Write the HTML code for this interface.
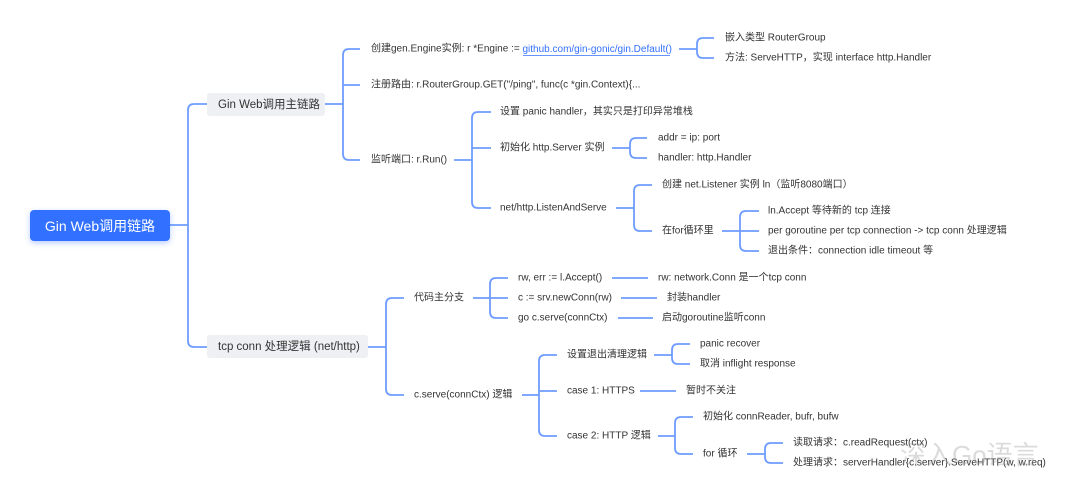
<!DOCTYPE html>
<html><head><meta charset="utf-8"><style>
html,body{margin:0;padding:0;background:#fff;}
svg{display:block}
text{font-family:"Liberation Sans","Noto Sans CJK SC",sans-serif;font-size:10px;fill:#333;dominant-baseline:central}
.l{fill:none;stroke:#6e9cff;stroke-width:1.8}
</style></head><body>
<svg width="1080" height="503" viewBox="0 0 1080 503" xmlns="http://www.w3.org/2000/svg">
<defs><filter id="sh" x="-20%" y="-40%" width="140%" height="180%"><feDropShadow dx="0" dy="2" stdDeviation="3" flood-color="#3370ff" flood-opacity="0.35"/></filter></defs>

<!-- root -->
<path class="l" d="M170,225 H188"/>
<path class="l" d="M207,104 H194 Q188,104 188,110 V341 Q188,347 194,347 H207"/>
<rect x="30" y="210" width="140" height="31" rx="4" fill="#3370ff" filter="url(#sh)"/>
<text x="100" y="226" text-anchor="middle" style="font-size:14px;fill:#fff">Gin Web调用链路</text>

<!-- Gin Web main -->
<rect x="207" y="93" width="118" height="23" rx="3" fill="#eef0f3"/>
<text x="218" y="105" style="font-size:11.5px">Gin Web调用主链路</text>
<path class="l" d="M325,104 H343"/>
<path class="l" d="M360,49 H349 Q343,49 343,55 V154 Q343,160 349,160 H360 M343,85 H360"/>
<text x="371" y="49">创建gen.Engine实例: r *Engine := <tspan style="fill:#3370ff">github.com/gin-gonic/gin.Default()</tspan></text>
<line x1="523" y1="55.5" x2="670" y2="55.5" stroke="#3370ff" stroke-width="0.8"/>
<text x="371" y="85">注册路由: r.RouterGroup.GET("/ping", func(c *gin.Context){...</text>
<text x="371" y="160">监听端口: r.Run()</text>

<path class="l" d="M679,49 H697"/>
<path class="l" d="M714,38 H703 Q697,38 697,44 V52 Q697,58 703,58 H714"/>
<text x="725" y="38">嵌入类型 RouterGroup</text>
<text x="725" y="58">方法: ServeHTTP，实现 interface http.Handler</text>

<path class="l" d="M454,160 H472"/>
<path class="l" d="M491,112 H478 Q472,112 472,118 V202 Q472,208 478,208 H491 M472,148 H491"/>
<text x="500" y="112">设置 panic handler，其实只是打印异常堆栈</text>
<text x="500" y="148">初始化 http.Server 实例</text>
<text x="500" y="208">net/http.ListenAndServe</text>

<path class="l" d="M612,148 H630"/>
<path class="l" d="M647,138 H636 Q630,138 630,144 V152 Q630,158 636,158 H647"/>
<text x="658" y="138">addr = ip: port</text>
<text x="658" y="158">handler: http.Handler</text>

<path class="l" d="M616,208 H634"/>
<path class="l" d="M652,185 H640 Q634,185 634,191 V225 Q634,231 640,231 H652"/>
<text x="662" y="185">创建 net.Listener 实例  ln（监听8080端口）</text>
<text x="662" y="231">在for循环里</text>

<path class="l" d="M722,231 H740"/>
<path class="l" d="M759,211 H746 Q740,211 740,217 V245 Q740,251 746,251 H759 M740,231 H759"/>
<text x="768" y="211">ln.Accept 等待新的 tcp 连接</text>
<text x="768" y="231">per goroutine per tcp connection -&gt; tcp conn 处理逻辑</text>
<text x="768" y="251">退出条件：connection idle timeout 等</text>

<!-- tcp conn -->
<rect x="207" y="335" width="161" height="23" rx="3" fill="#eef0f3"/>
<text x="218" y="347" style="font-size:11.5px">tcp conn 处理逻辑 (net/http)</text>
<path class="l" d="M368,347 H386"/>
<path class="l" d="M404,298 H392 Q386,298 386,304 V389 Q386,395 392,395 H404"/>
<text x="414" y="298">代码主分支</text>
<text x="414" y="395">c.serve(connCtx) 逻辑</text>

<path class="l" d="M473,298 H490"/>
<path class="l" d="M508,278 H496 Q490,278 490,284 V312 Q490,318 496,318 H508 M490,298 H508"/>
<text x="518" y="278">rw, err := l.Accept()</text>
<text x="518" y="298">c := srv.newConn(rw)</text>
<text x="518" y="318">go c.serve(connCtx)</text>
<path class="l" d="M612,278 H648 M621,298 H657 M618,318 H653"/>
<text x="658" y="278">rw: network.Conn 是一个tcp conn</text>
<text x="667" y="298">封装handler</text>
<text x="662" y="318">启动goroutine监听conn</text>

<path class="l" d="M522,395 H539"/>
<path class="l" d="M557,355 H545 Q539,355 539,361 V430 Q539,436 545,436 H557 M539,391 H557"/>
<text x="567" y="355">设置退出清理逻辑</text>
<text x="567" y="391">case 1: HTTPS</text>
<text x="567" y="436">case 2: HTTP 逻辑</text>

<path class="l" d="M654,355 H672"/>
<path class="l" d="M690,344 H678 Q672,344 672,350 V358 Q672,364 678,364 H690"/>
<text x="700" y="344">panic recover</text>
<text x="700" y="364">取消 inflight response</text>

<path class="l" d="M640,391 H676"/>
<text x="686" y="391">暂时不关注</text>

<path class="l" d="M658,436 H675"/>
<path class="l" d="M693,417 H681 Q675,417 675,423 V448 Q675,454 681,454 H693"/>
<text x="703" y="417">初始化 connReader, bufr, bufw</text>
<text x="703" y="454">for 循环</text>

<path class="l" d="M747,454 H765"/>
<path class="l" d="M783,443 H771 Q765,443 765,449 V457 Q765,463 771,463 H783"/>
<text x="793" y="443">读取请求：c.readRequest(ctx)</text>
<text x="793" y="463">处理请求：serverHandler{c.server}.ServeHTTP(w, w.req)</text>
<text x="900" y="455" style="font-size:26px;fill:#999;opacity:0.35">深入Go语言</text>
</svg>
</body></html>
